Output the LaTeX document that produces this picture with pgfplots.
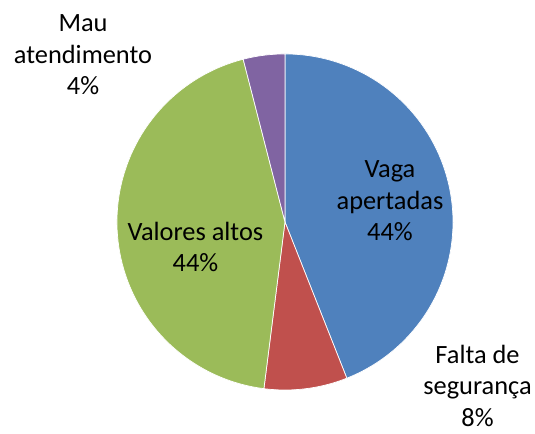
\documentclass[border=0pt]{standalone}
\usepackage{pgfplots}
\usepackage{pgfplotstable}
\pgfplotsset{compat=1.18}
\usepackage{fontspec}
\setmainfont{Carlito}

\definecolor{slice0}{HTML}{4F81BD}
\definecolor{slice1}{HTML}{C0504D}
\definecolor{slice2}{HTML}{9BBB59}
\definecolor{slice3}{HTML}{8064A2}

% share of each reason, in percent, clockwise from 12 o'clock
\pgfplotstableread{
reason value
Vaga 44
Falta 8
Valores 44
Mau 4
}\piedata

\tikzset{lbl/.style={font=\fontsize{15}{18}\selectfont, align=center, text=black, inner sep=0pt}}

\begin{document}
\begin{tikzpicture}
\begin{axis}[
  hide axis,
  scale only axis,
  width=10.7cm, height=8.66cm,
  xmin=-1.696, xmax=1.488,
  ymin=-1.256, ymax=1.321,
  clip=false,
]
\path (rel axis cs:0,0) rectangle (rel axis cs:1,1);
\pgfmathsetmacro\start{90}
\pgfplotsforeachungrouped \i in {0,...,3}{
  \pgfplotstablegetelem{\i}{value}\of\piedata
  \pgfmathsetmacro\stop{\start-3.6*\pgfplotsretval}
  \edef\temp{\noexpand\addplot[fill=slice\i, draw=white, line width=0.4pt,
    domain=\stop:\start, samples=80, variable=\noexpand\t]
    ({cos(\noexpand\t)},{sin(\noexpand\t)}) -- (axis cs:0,0) -- cycle;}
  \temp
  \global\let\start\stop
}
\node[lbl] at (axis cs:0.625,0.125) {Vaga\\apertadas\\44\%};
\node[lbl] at (axis cs:-0.533,-0.149) {Valores altos\\44\%};
\node[lbl] at (axis cs:1.146,-0.975) {Falta de\\segurança\\8\%};
\node[lbl] at (axis cs:-1.202,0.994) {Mau\\atendimento\\4\%};
\end{axis}
\end{tikzpicture}
\end{document}
